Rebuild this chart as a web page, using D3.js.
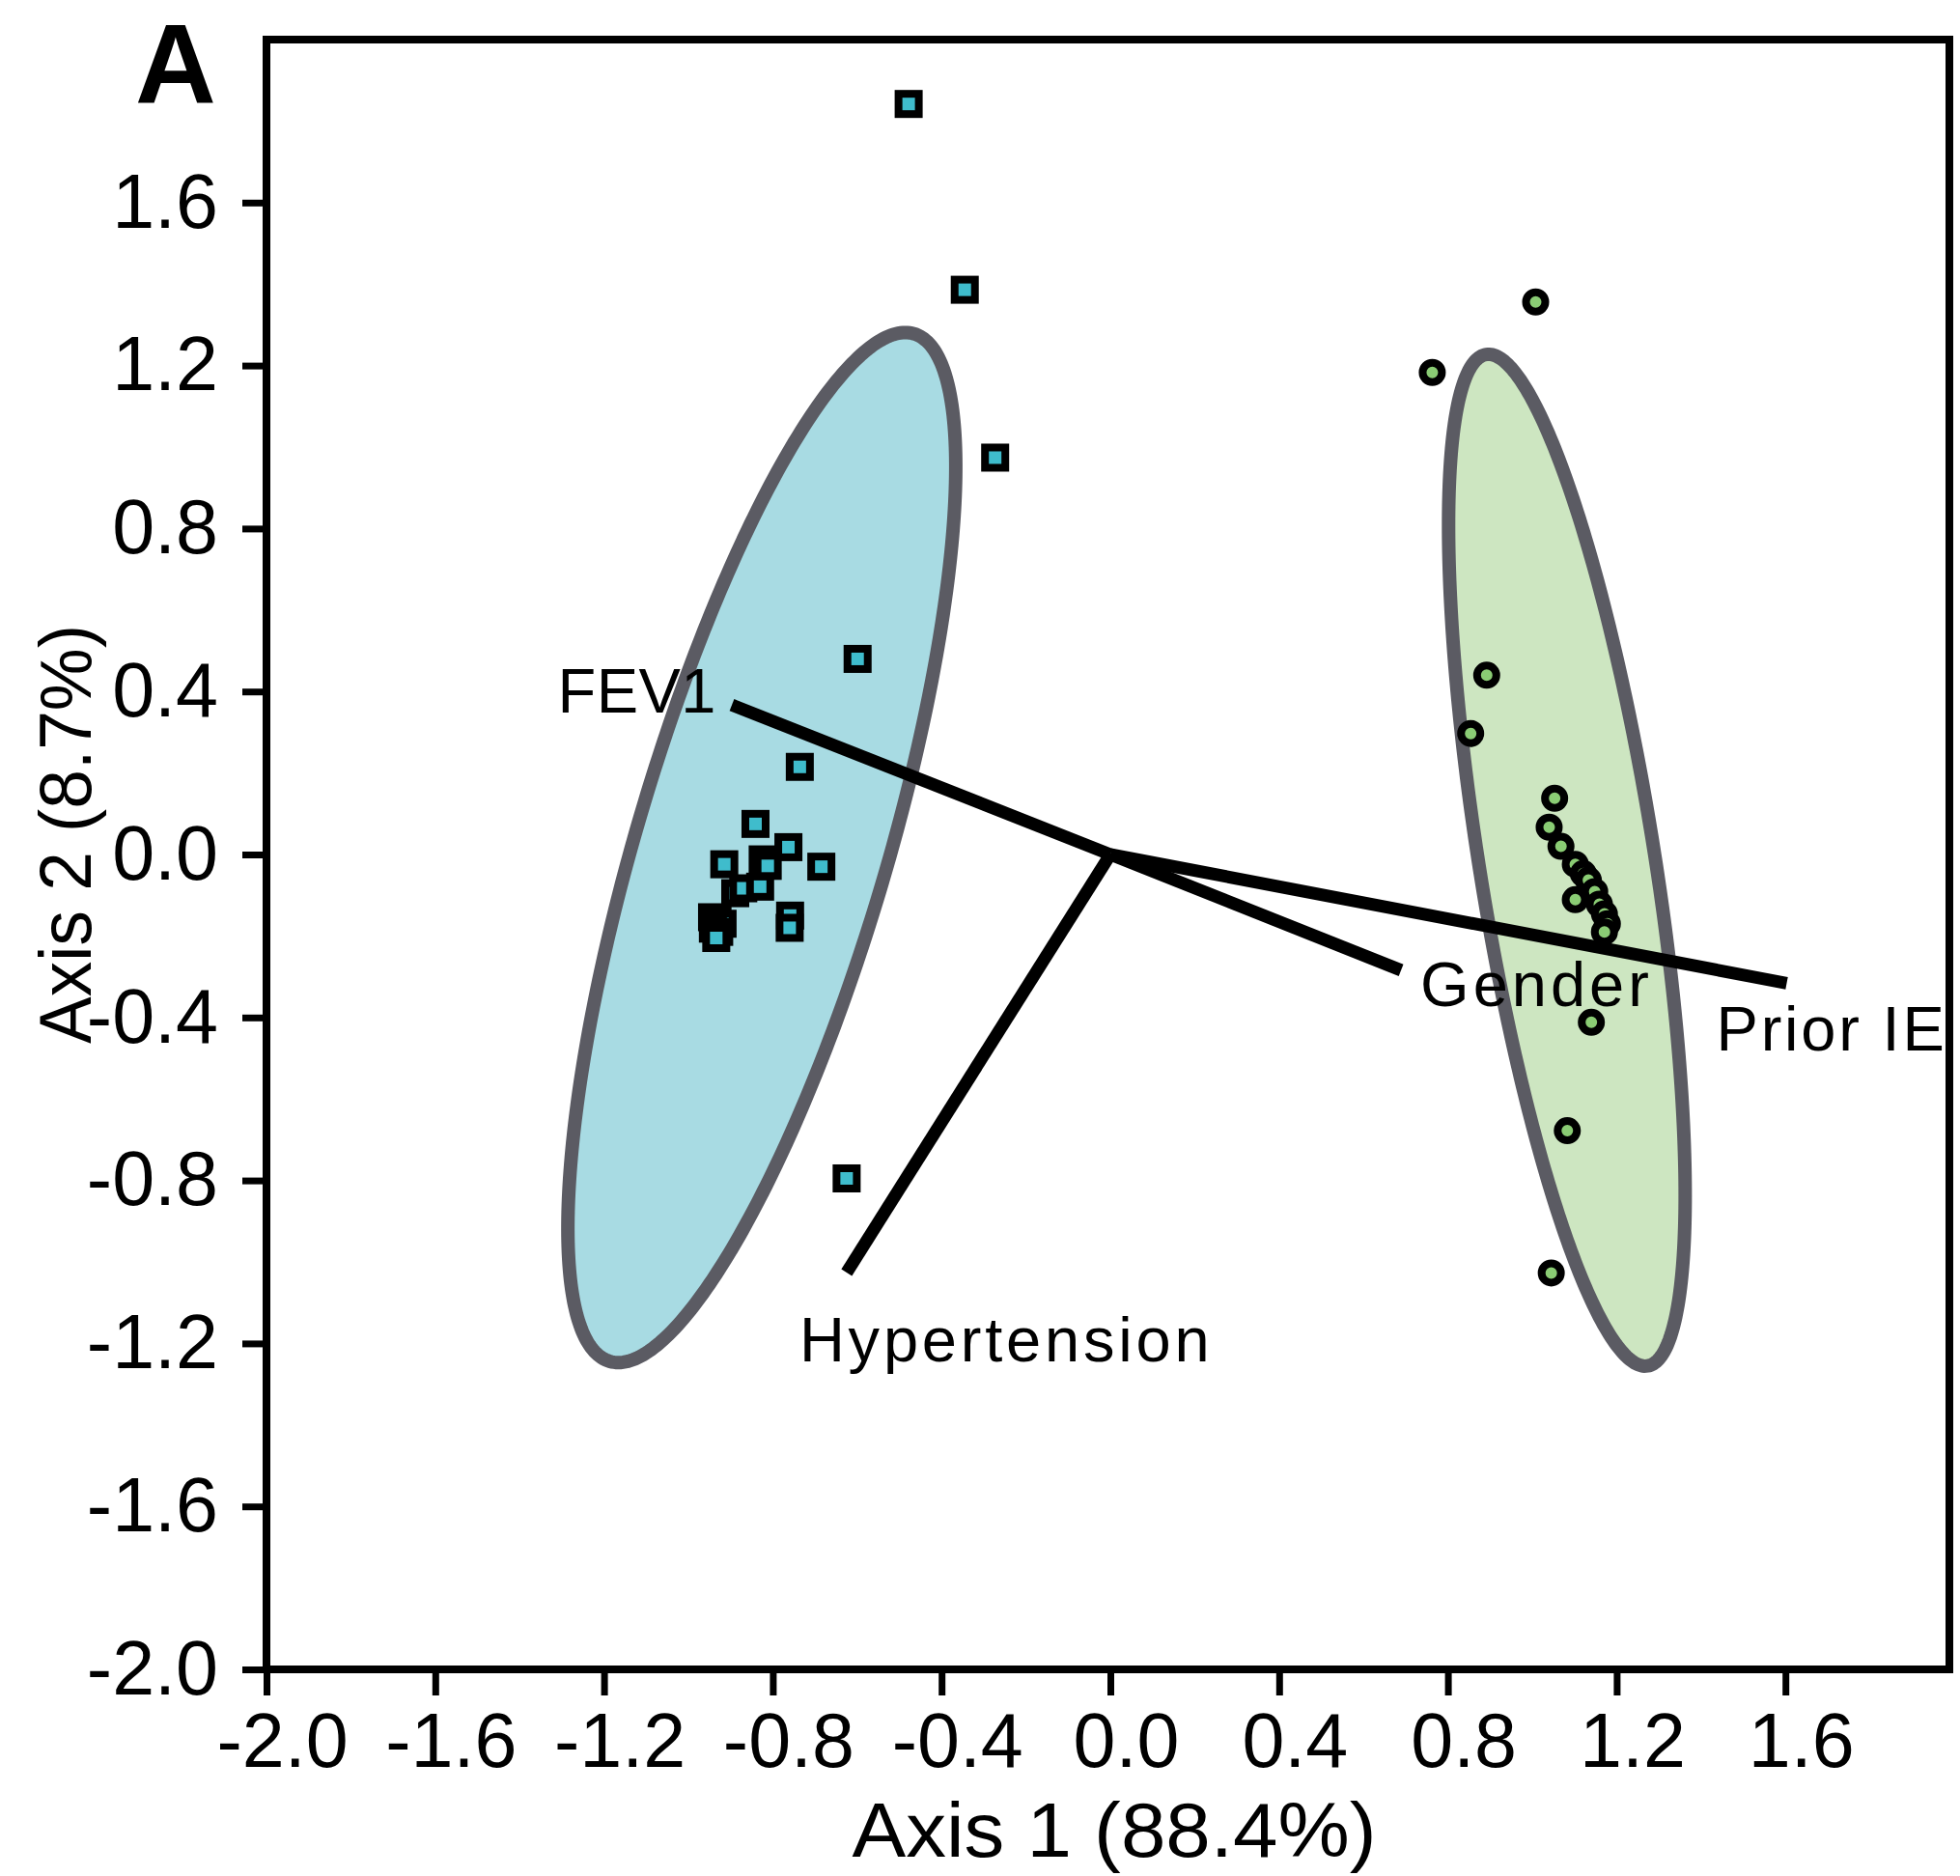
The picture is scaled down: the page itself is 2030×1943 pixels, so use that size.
<!DOCTYPE html>
<html><head><meta charset="utf-8">
<script src="https://cdn.jsdelivr.net/npm/d3@7"></script>
<style>body{margin:0;background:#fff}svg{display:block}</style>
</head><body>
<svg id="chart" width="2030" height="1943"></svg>
<script>
// ---------------- data ----------------
const xTickValues = [-2.0, -1.6, -1.2, -0.8, -0.4, 0.0, 0.4, 0.8, 1.2, 1.6];
const xTickLabels = ["-2.0", "-1.6", "-1.2", "-0.8", "-0.4", "0.0", "0.4", "0.8", "1.2", "1.6"];
const yTickValues = [-2.0, -1.6, -1.2, -0.8, -0.4, 0.0, 0.4, 0.8, 1.2, 1.6];
const yTickLabels = ["-2.0", "-1.6", "-1.2", "-0.8", "-0.4", "0.0", "0.4", "0.8", "1.2", "1.6"];

// group 1 (squares)
const sqX = [-0.944, -0.931, -0.919, -0.942, -0.927, -0.934, -0.824, -0.889, -0.870, -0.830,
             -0.841, -0.915, -0.812, -0.763, -0.685, -0.759, -0.760,
             -0.478, -0.345, -0.273, -0.599, -0.736, -0.625];
const sqY = [-0.154, -0.162, -0.170, -0.182, -0.190, -0.205, -0.012, -0.095, -0.083, -0.079,
              0.075, -0.024, -0.028, 0.018, -0.030, -0.150, -0.180,
              1.842, 1.386, 0.974, 0.480, 0.215, -0.795];

// group 2 (circles)
const ciX = [1.008, 0.763, 0.892, 0.854, 1.053, 1.040, 1.068, 1.102, 1.121, 1.133, 1.148,
             1.102, 1.159, 1.171, 1.178, 1.171, 1.140, 1.083, 1.045];
const ciY = [1.356, 1.183, 0.440, 0.297, 0.138, 0.067, 0.020, -0.024, -0.047, -0.063, -0.091,
             -0.111, -0.122, -0.146, -0.170, -0.190, -0.412, -0.678, -1.027];

// ellipses: centre and two conjugate semi-diameters (data units)
const ellCx = [-0.826, 1.082];
const ellCy = [0.017, -0.014];
const ellUx = [0.3606, -0.1913];
const ellUy = [1.261, 1.2412];
const ellWx = [0.2851, 0.2050];
const ellWy = [-0.0874, 0.0339];
const ellFill = ["#a8dbe3", "#cde6c1"];

// biplot vectors
const vecNames = ["FEV1", "Gender", "Prior IE", "Hypertension"];
const vecX = [-0.897, 0.689, 1.603, -0.625];
const vecY = [0.367, -0.284, -0.316, -1.026];

// ---------------- layout ----------------
const svg = d3.select("#chart");
const FONT = "'Liberation Sans', Arial, Helvetica, sans-serif";
const x = d3.scaleLinear().domain([-2, 2]).range([276, 2024]);
const y = d3.scaleLinear().domain([-2, 2]).range([1729, 41]);
const frameRight = 2019;

// ellipses
const ellG = svg.append("g");
ellCx.forEach((cx, i) => {
  const pts = d3.range(0, 360, 1).map(d => {
    const t = d * Math.PI / 180;
    return [cx + ellUx[i] * Math.cos(t) + ellWx[i] * Math.sin(t),
            ellCy[i] + ellUy[i] * Math.cos(t) + ellWy[i] * Math.sin(t)];
  });
  ellG.append("path")
    .attr("d", d3.line().x(p => x(p[0])).y(p => y(p[1])).curve(d3.curveLinearClosed)(pts))
    .attr("fill", ellFill[i])
    .attr("stroke", "#5b5b63")
    .attr("stroke-width", 14);
});

// vectors
const vecG = svg.append("g");
vecNames.forEach((n, i) => {
  vecG.append("line")
    .attr("x1", x(0)).attr("y1", y(0))
    .attr("x2", x(vecX[i])).attr("y2", y(vecY[i]))
    .attr("stroke", "#000").attr("stroke-width", 13);
});
const labOff = [[-16, 8, "end", 0.5], [20, 37, "start", 4], [-73, 70, "start", 2.8], [-49, 92, "start", 3.8]];
vecNames.forEach((n, i) => {
  vecG.append("text")
    .attr("x", x(vecX[i]) + labOff[i][0])
    .attr("y", y(vecY[i]) + labOff[i][1])
    .attr("text-anchor", labOff[i][2])
    .attr("font-family", FONT).attr("font-size", 65)
    .attr("letter-spacing", labOff[i][3])
    .attr("fill", "#000")
    .text(n);
});

// points
const ptG = svg.append("g");
const sq = 21;
sqX.forEach((v, i) => {
  ptG.append("rect")
    .attr("x", x(v) - sq / 2).attr("y", y(sqY[i]) - sq / 2)
    .attr("width", sq).attr("height", sq)
    .attr("fill", "#3fbccc").attr("stroke", "#000").attr("stroke-width", 8);
});
ciX.forEach((v, i) => {
  ptG.append("circle")
    .attr("cx", x(v)).attr("cy", y(ciY[i])).attr("r", 10)
    .attr("fill", "#8acc74").attr("stroke", "#000").attr("stroke-width", 8);
});

// axes
const xAxis = svg.append("g").attr("transform", `translate(0,${y(-2)})`)
  .call(d3.axisBottom(x).tickValues(xTickValues).tickSize(27)
        .tickFormat((d, i) => xTickLabels[i]));
const yAxis = svg.append("g").attr("transform", `translate(${x(-2)},0)`)
  .call(d3.axisLeft(y).tickValues(yTickValues).tickSize(25).tickPadding(25)
        .tickFormat((d, i) => yTickLabels[i]));
[xAxis, yAxis].forEach(a => {
  a.select(".domain").remove();
  a.selectAll(".tick line").attr("stroke", "#000").attr("stroke-width", 7);
  a.selectAll("text").attr("font-family", FONT).attr("font-size", 79).attr("fill", "#000");
});
xAxis.selectAll("text").attr("y", 101).attr("dy", null).attr("dx", 16);

// frame
svg.append("rect")
  .attr("x", x(-2)).attr("y", y(2))
  .attr("width", frameRight - x(-2)).attr("height", y(-2) - y(2))
  .attr("fill", "none").attr("stroke", "#000").attr("stroke-width", 8);

// titles
svg.append("text").attr("x", 1154).attr("y", 1923)
  .attr("text-anchor", "middle").attr("font-family", FONT).attr("font-size", 80)
  .attr("textLength", 543).attr("lengthAdjust", "spacingAndGlyphs")
  .text("Axis 1 (88.4%)");
svg.append("text").attr("transform", "translate(94,864) rotate(-90)")
  .attr("text-anchor", "middle").attr("font-family", FONT).attr("font-size", 76)
  .attr("textLength", 434).attr("lengthAdjust", "spacingAndGlyphs")
  .text("Axis 2 (8.7%)");
svg.append("text").attr("x", 140).attr("y", 107)
  .attr("font-family", FONT).attr("font-size", 116).attr("font-weight", "bold")
  .text("A");
</script>
</body></html>
